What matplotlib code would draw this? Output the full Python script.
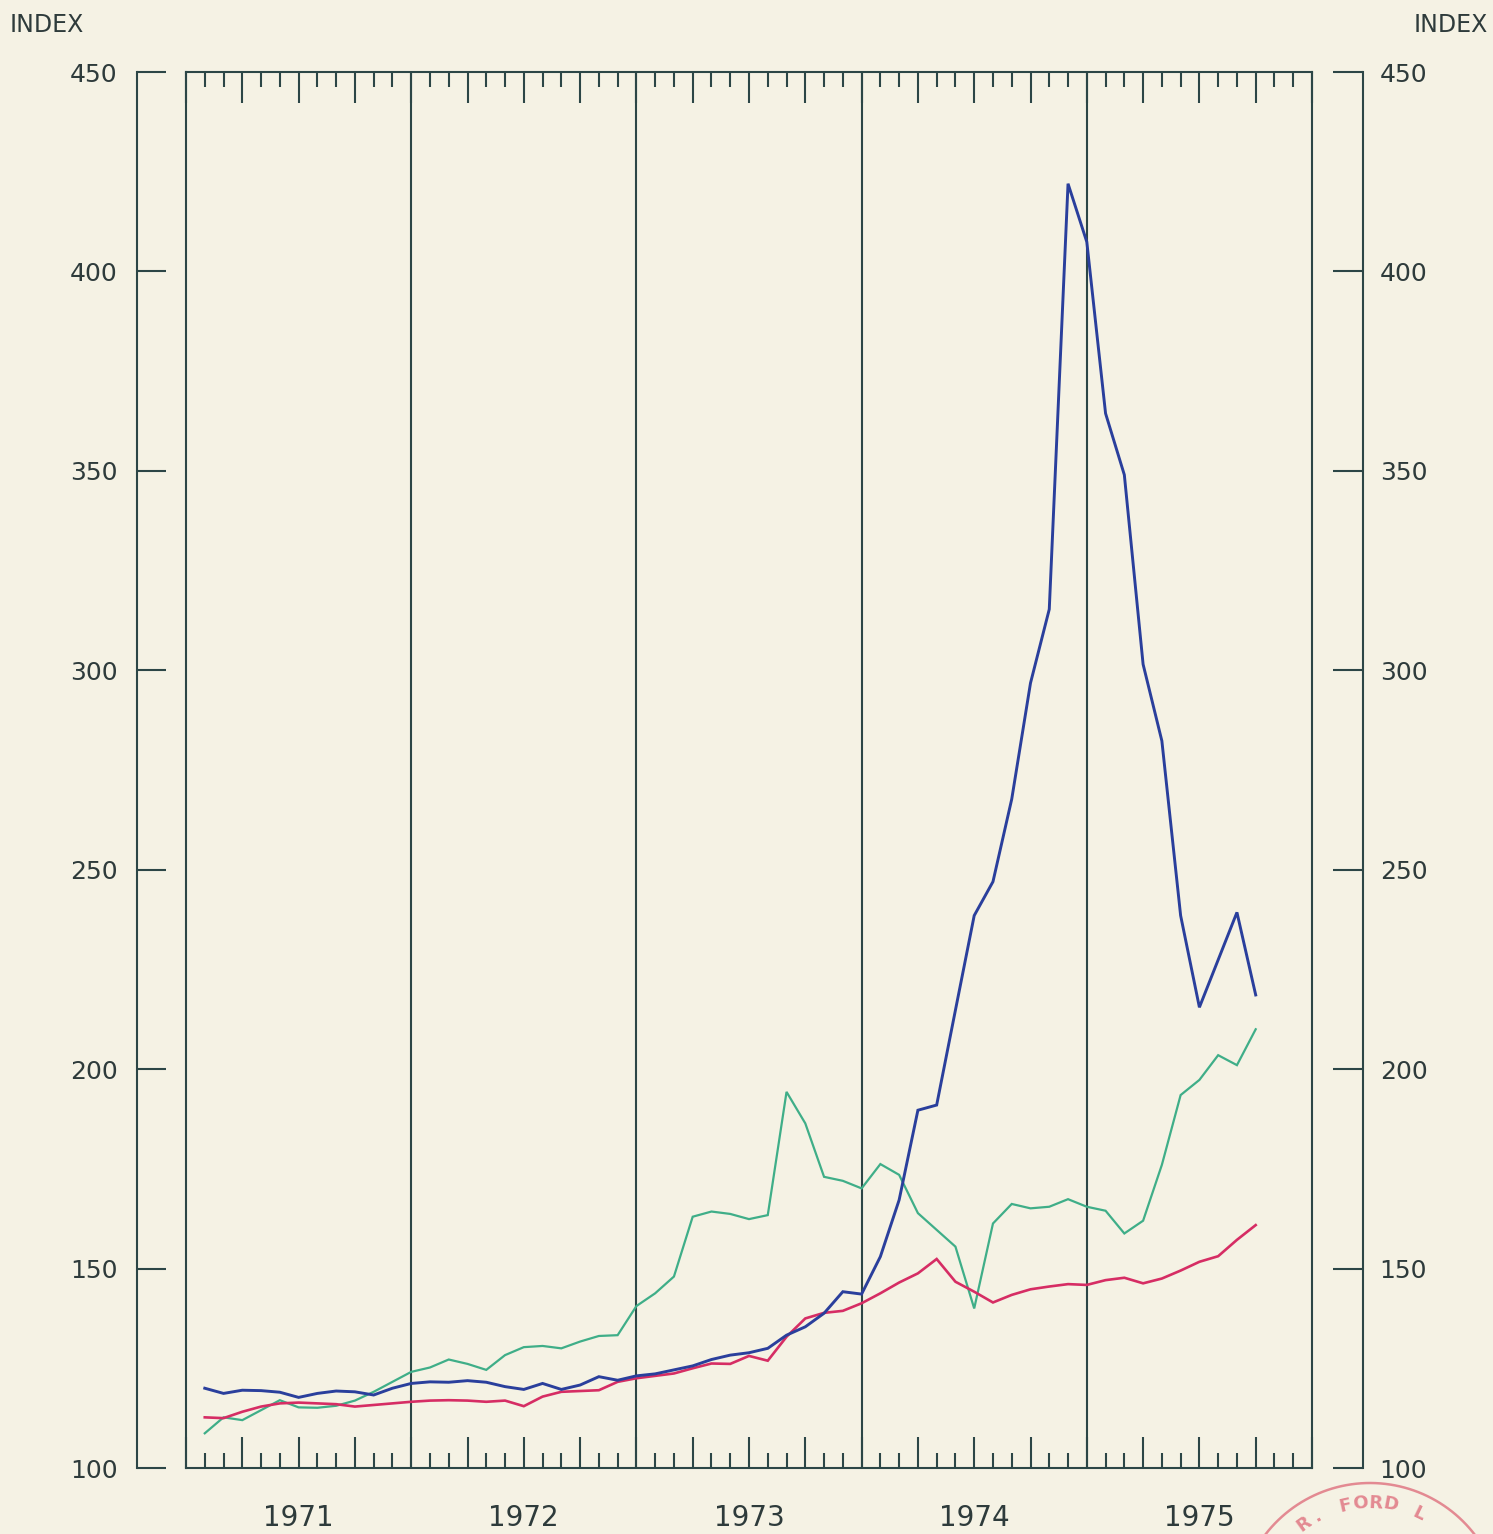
import numpy as np
import matplotlib
matplotlib.use("Agg")
import matplotlib.pyplot as plt
import matplotlib.transforms as mtransforms

# ---------------- data ----------------
# month index: 1 = Jan 1971 ... 57 = Sep 1975
months = np.arange(1, 58)

blue_index = [120.0, 118.7, 119.5, 119.4, 119.0, 117.7, 118.7, 119.3, 119.1, 118.3,
              120.0, 121.2, 121.6, 121.5, 121.9, 121.5, 120.4, 119.7, 121.2, 119.7,
              120.8, 122.9, 122.0, 123.1, 123.6, 124.6, 125.6, 127.2, 128.3, 128.9,
              130.0, 133.3, 135.4, 138.8, 144.2, 143.6, 153.0, 167.2, 189.7, 191.0,
              214.8, 238.5, 247.0, 267.7, 296.8, 315.3, 422.0, 407.4, 364.4, 349.0,
              301.5, 282.3, 238.5, 215.5, 227.4, 239.3, 218.6]

green_index = [108.7, 112.7, 112.0, 114.5, 117.0, 115.2, 115.1, 115.6, 116.9, 119.1,
               121.6, 124.1, 125.2, 127.2, 126.1, 124.6, 128.3, 130.3, 130.6, 130.0,
               131.7, 133.1, 133.3, 140.6, 143.8, 148.0, 163.0, 164.3, 163.7, 162.4,
               163.4, 194.3, 186.4, 173.0, 172.0, 170.1, 176.2, 173.5, 163.9, 159.7,
               155.5, 140.0, 161.3, 166.2, 165.1, 165.5, 167.4, 165.5, 164.5, 158.8,
               162.0, 176.0, 193.5, 197.3, 203.5, 201.0, 210.0]

red_index = [112.7, 112.5, 114.1, 115.4, 116.2, 116.4, 116.2, 116.0, 115.4, 115.8,
             116.2, 116.6, 116.9, 117.0, 116.9, 116.6, 116.9, 115.5, 117.9, 119.1,
             119.3, 119.5, 121.6, 122.5, 123.1, 123.7, 125.0, 126.2, 126.1, 128.1,
             126.9, 132.9, 137.5, 138.9, 139.4, 141.3, 143.8, 146.5, 148.8, 152.4,
             146.7, 144.2, 141.5, 143.4, 144.8, 145.5, 146.1, 145.9, 147.1, 147.7,
             146.3, 147.5, 149.5, 151.7, 153.1, 157.2, 160.9]

years = ["1971", "1972", "1973", "1974", "1975"]
y_ticks = [100, 150, 200, 250, 300, 350, 400, 450]
y_label = "INDEX"

# ---------------- style ----------------
W, H = 1493, 1534
BG = "#f5f2e4"
AXC = "#2c4646"
TXC = "#2e3b3b"
plt.rcParams['font.family'] = ['DejaVu Sans']

fig = plt.figure(figsize=(W / 100, H / 100), dpi=100, facecolor=BG)

bottom = (H - 1468) / H
height = (1468 - 72) / H

ax = fig.add_axes([186 / W, bottom, (1312 - 186) / W, height])
ax.set_facecolor(BG)
ax.set_xlim(0, 60)
ax.set_ylim(100, 450)
for s in ax.spines.values():
    s.set_color(AXC)
    s.set_linewidth(1.5)
ax.set_yticks([])
ax.set_xticks(np.arange(0, 61, 3))
ax.set_xticks(np.arange(0, 61, 1), minor=True)
ax.set_xticklabels([])
ax.tick_params(axis='x', which='major', direction='in', length=22, width=1.5,
               color=AXC, top=True, bottom=True)
ax.tick_params(axis='x', which='minor', direction='in', length=10.5, width=1.5,
               color=AXC, top=True, bottom=True)
for yb in range(12, 60, 12):
    ax.axvline(yb, color=AXC, lw=1.5, zorder=1)

ax.plot(months, green_index, color="#3fae88", lw=1.6, zorder=3, solid_joinstyle='miter')
ax.plot(months, red_index, color="#d62d64", lw=1.9, zorder=4, solid_joinstyle='miter')
ax.plot(months, blue_index, color="#2a3f9c", lw=2.1, zorder=5, solid_joinstyle='miter')

trans = mtransforms.blended_transform_factory(ax.transData, ax.transAxes)
for i, yr in enumerate(years):
    ax.text(6 + 12 * i, -0.036, yr, transform=trans, ha='center', va='center',
            fontsize=20, color=TXC)

# left value axis
axL = fig.add_axes([137 / W, bottom, 29 / W, height])
axL.patch.set_alpha(0)
axL.set_ylim(100, 450)
for k in ['right', 'top', 'bottom']:
    axL.spines[k].set_visible(False)
axL.spines['left'].set_color(AXC)
axL.spines['left'].set_linewidth(1.5)
axL.set_xticks([])
axL.set_yticks(y_ticks)
axL.tick_params(axis='y', direction='in', length=21, width=1.5, color=AXC,
                labelsize=18, labelcolor=TXC, pad=14)

# right value axis
axR = fig.add_axes([1333 / W, bottom, 30 / W, height])
axR.patch.set_alpha(0)
axR.set_ylim(100, 450)
for k in ['left', 'top', 'bottom']:
    axR.spines[k].set_visible(False)
axR.spines['right'].set_color(AXC)
axR.spines['right'].set_linewidth(1.5)
axR.set_xticks([])
axR.set_yticks(y_ticks)
axR.yaxis.tick_right()
axR.tick_params(axis='y', direction='in', length=21.5, width=1.5, color=AXC,
                labelsize=18, labelcolor=TXC, pad=12)

fig.text(10 / W, 1 - 25 / H, y_label, ha='left', va='center', fontsize=17, color=TXC)
fig.text(1488 / W, 1 - 25 / H, y_label, ha='right', va='center', fontsize=17, color=TXC)

# library stamp fragment (bottom right)
stamp = "#e38a92"
cx, cy, R = 1370, H - 1615, 132
th = np.linspace(np.radians(20), np.radians(160), 200)
fig.add_artist(plt.Line2D((cx + R * np.cos(th)) / W, (cy + R * np.sin(th)) / H,
                          color=stamp, lw=1.8, transform=fig.transFigure))
for ch, ang in zip("R. FORD L", np.linspace(126, 64, 9)):
    if ch == " ":
        continue
    a = np.radians(ang)
    fig.text((cx + 112 * np.cos(a)) / W, (cy + 112 * np.sin(a)) / H, ch,
             rotation=ang - 90, ha='center', va='center', fontsize=13,
             color=stamp, fontweight='bold')

fig.savefig("out.png", dpi=100, facecolor=BG)
